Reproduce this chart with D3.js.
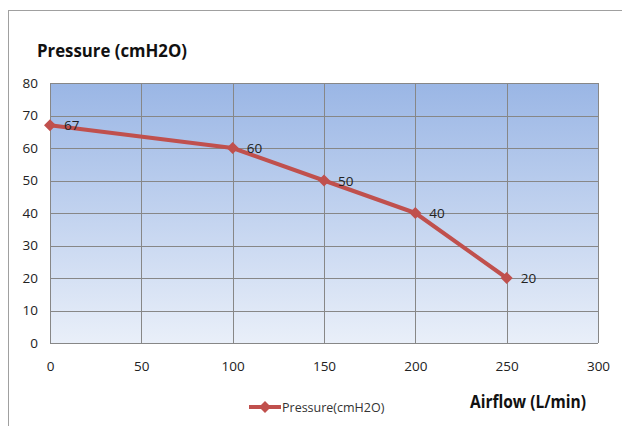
<!DOCTYPE html>
<html>
<head>
<meta charset="utf-8">
<script src="https://cdn.jsdelivr.net/npm/d3@7"></script>
<style>
  html, body { margin: 0; padding: 0; background: #fff; }
  svg { display: block; }
  text { font-family: "Open Sans", "Noto Sans", sans-serif; }
</style>
</head>
<body>
<svg id="chart" width="622" height="426"></svg>
<script>
// Pump curve: pressure against airflow
const airflow = [0, 100, 150, 200, 250];
const pressure = [67, 60, 50, 40, 20];
const xTicks = [0, 50, 100, 150, 200, 250, 300];
const yTicks = [0, 10, 20, 30, 40, 50, 60, 70, 80];
const seriesName = "Pressure(cmH2O)";
const yTitle = "Pressure (cmH2O)";
const xTitle = "Airflow (L/min)";

const svg = d3.select("#chart");
const lineColor = "#c0504d";
const gridColor = "#878787";

const plot = { left: 50, right: 598, top: 83, bottom: 343 };

const x = d3.scaleLinear().domain([0, 300]).range([plot.left, plot.right]);
const y = d3.scaleLinear().domain([0, 80]).range([plot.bottom, plot.top]);

// outer chart frame
svg.append("rect")
  .attr("x", 8.5).attr("y", 10.5)
  .attr("width", 640).attr("height", 440)
  .attr("fill", "none").attr("stroke", "#a0a0a0").attr("stroke-width", 1);

// plot background gradient
const defs = svg.append("defs");
const grad = defs.append("linearGradient")
  .attr("id", "bg").attr("x1", 0).attr("y1", 0).attr("x2", 0).attr("y2", 1);
grad.append("stop").attr("offset", "0%").attr("stop-color", "#9ab6e5");
grad.append("stop").attr("offset", "100%").attr("stop-color", "#e9eff9");

svg.append("rect")
  .attr("x", plot.left).attr("y", plot.top)
  .attr("width", plot.right - plot.left).attr("height", plot.bottom - plot.top)
  .attr("fill", "url(#bg)");

// gridlines
svg.append("g").selectAll("line").data(yTicks).join("line")
  .attr("x1", plot.left).attr("x2", plot.right)
  .attr("y1", d => Math.round(y(d)) + 0.5).attr("y2", d => Math.round(y(d)) + 0.5)
  .attr("stroke", gridColor).attr("stroke-width", 1);
svg.append("g").selectAll("line").data(xTicks).join("line")
  .attr("y1", plot.top).attr("y2", plot.bottom)
  .attr("x1", d => Math.round(x(d)) + 0.5).attr("x2", d => Math.round(x(d)) + 0.5)
  .attr("stroke", gridColor).attr("stroke-width", 1);

// axes (labels only)
const yAxis = svg.append("g")
  .attr("transform", `translate(${plot.left},0)`)
  .call(d3.axisLeft(y).tickValues(yTicks).tickSize(0).tickPadding(12));
const xAxis = svg.append("g")
  .attr("transform", `translate(0,${plot.bottom})`)
  .call(d3.axisBottom(x).tickValues(xTicks).tickSize(0).tickPadding(18));
[yAxis, xAxis].forEach(a => {
  a.select(".domain").remove();
  a.selectAll("text")
    .attr("fill", "#222")
    .style("font-family", '"Open Sans", sans-serif')
    .style("font-size", "13.5px");
});

// titles
svg.append("text")
  .attr("x", 37).attr("y", 57)
  .attr("font-size", "18px").attr("font-weight", "bold")
  .attr("textLength", 150).attr("lengthAdjust", "spacingAndGlyphs")
  .attr("fill", "#111")
  .text(yTitle);
svg.append("text")
  .attr("x", 470).attr("y", 408)
  .attr("font-size", "18px").attr("font-weight", "bold")
  .attr("textLength", 116).attr("lengthAdjust", "spacingAndGlyphs")
  .attr("fill", "#111")
  .text(xTitle);

// series line
const pts = airflow.map((a, i) => [a, pressure[i]]);
svg.append("path")
  .datum(pts)
  .attr("d", d3.line().x(d => x(d[0])).y(d => y(d[1])))
  .attr("fill", "none")
  .attr("stroke", lineColor)
  .attr("stroke-width", 4)
  .attr("stroke-linejoin", "round");

// square diamond marker, half-size 6px
const diamond = "M0,-6L6,0L0,6L-6,0Z";
svg.append("g").selectAll("path").data(pts).join("path")
  .attr("transform", d => `translate(${x(d[0])},${y(d[1])})`)
  .attr("d", diamond)
  .attr("fill", lineColor);

// value labels
svg.append("g").selectAll("text").data(pts).join("text")
  .attr("x", d => x(d[0]) + 14)
  .attr("y", d => y(d[1]) + 5)
  .attr("font-size", "13.5px")
  .attr("fill", "#222")
  .text(d => d[1]);

// legend
const lg = svg.append("g").attr("transform", "translate(249,407)");
lg.append("line").attr("x1", 0).attr("x2", 32).attr("y1", 0).attr("y2", 0)
  .attr("stroke", lineColor).attr("stroke-width", 4);
lg.append("path").attr("transform", "translate(16,0)").attr("d", diamond).attr("fill", lineColor);
lg.append("text").attr("x", 33).attr("y", 5)
  .attr("font-size", "12.5px").attr("fill", "#333")
  .text(seriesName);
</script>
</body>
</html>
